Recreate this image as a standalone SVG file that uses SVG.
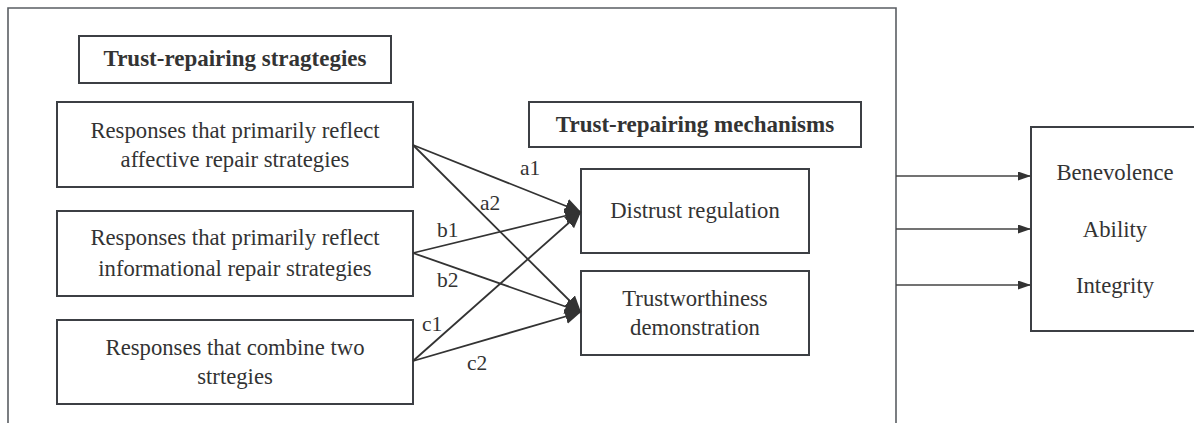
<svg xmlns="http://www.w3.org/2000/svg" width="1194" height="423" viewBox="0 0 1194 423">
<style>
.box{fill:#fff;stroke:#3c3f44;stroke-width:2}
.frame{fill:none;stroke:#5a5e63;stroke-width:1.6}
.t{font-family:"Liberation Serif","Times New Roman",Times,serif;font-size:22.7px;fill:#333;text-anchor:middle}
.b{font-weight:bold;font-size:23px}
.lbl{font-family:"Liberation Serif","Times New Roman",Times,serif;font-size:21.5px;fill:#333}
.c{stroke:#333;stroke-width:1.8;fill:none}
.c2{stroke:#444;stroke-width:1.6;fill:none}
</style>
<defs>
<marker id="big" markerUnits="userSpaceOnUse" markerWidth="18" markerHeight="16" refX="16" refY="7.5" orient="auto">
<path d="M0,0 L16,7.5 L0,15 z" fill="#333"/>
</marker>
<marker id="small" markerUnits="userSpaceOnUse" markerWidth="14" markerHeight="10" refX="13" refY="4.5" orient="auto">
<path d="M0,0 L13,4.5 L0,9 z" fill="#333"/>
</marker>
</defs>
<rect width="1194" height="423" fill="#fff"/>
<g id="frame"><path class="frame" d="M8,430 L8,8 L896,8 L896,430"/></g>
<g id="strategies-title"><rect class="box" x="79" y="36" width="312" height="47"/><text class="t b" x="235" y="66">Trust-repairing stragtegies</text></g>
<g id="affective"><rect class="box" x="57" y="102" width="356" height="85"/><text class="t" x="235" y="138">Responses that primarily reflect</text><text class="t" x="235" y="167">affective repair strategies</text></g>
<g id="informational"><rect class="box" x="57" y="211" width="356" height="85"/><text class="t" x="235" y="245">Responses that primarily reflect</text><text class="t" x="235" y="276">informational repair strategies</text></g>
<g id="combine"><rect class="box" x="57" y="320" width="356" height="84"/><text class="t" x="235" y="355">Responses that combine two</text><text class="t" x="235" y="384">strtegies</text></g>
<g id="mechanisms-title"><rect class="box" x="529" y="102" width="332" height="45"/><text class="t b" x="695" y="132">Trust-repairing mechanisms</text></g>
<g id="distrust"><rect class="box" x="581" y="169" width="228" height="84"/><text class="t" x="695" y="218">Distrust regulation</text></g>
<g id="trustworthiness"><rect class="box" x="581" y="271" width="228" height="84"/><text class="t" x="695" y="306">Trustworthiness</text><text class="t" x="695" y="335">demonstration</text></g>
<g id="outcomes"><rect class="box" x="1031" y="127" width="170" height="204"/><text class="t" x="1115" y="180">Benevolence</text><text class="t" x="1115" y="237">Ability</text><text class="t" x="1115" y="293">Integrity</text></g>
<g id="connectors">
<line class="c" x1="413" y1="145" x2="581" y2="212" marker-end="url(#big)"/>
<line class="c" x1="413" y1="145" x2="581" y2="312" marker-end="url(#big)"/>
<line class="c" x1="413" y1="253" x2="581" y2="212" marker-end="url(#big)"/>
<line class="c" x1="413" y1="253" x2="581" y2="312" marker-end="url(#big)"/>
<line class="c" x1="413" y1="361" x2="581" y2="212" marker-end="url(#big)"/>
<line class="c" x1="413" y1="361" x2="581" y2="312" marker-end="url(#big)"/>
<line class="c2" x1="896" y1="176" x2="1031" y2="176" marker-end="url(#small)"/>
<line class="c2" x1="896" y1="229" x2="1031" y2="229" marker-end="url(#small)"/>
<line class="c2" x1="896" y1="285" x2="1031" y2="285" marker-end="url(#small)"/>
<text class="lbl" x="520" y="175">a1</text>
<text class="lbl" x="480" y="210">a2</text>
<text class="lbl" x="437" y="237">b1</text>
<text class="lbl" x="437" y="287">b2</text>
<text class="lbl" x="422" y="331">c1</text>
<text class="lbl" x="467" y="370">c2</text>
</g>
</svg>
